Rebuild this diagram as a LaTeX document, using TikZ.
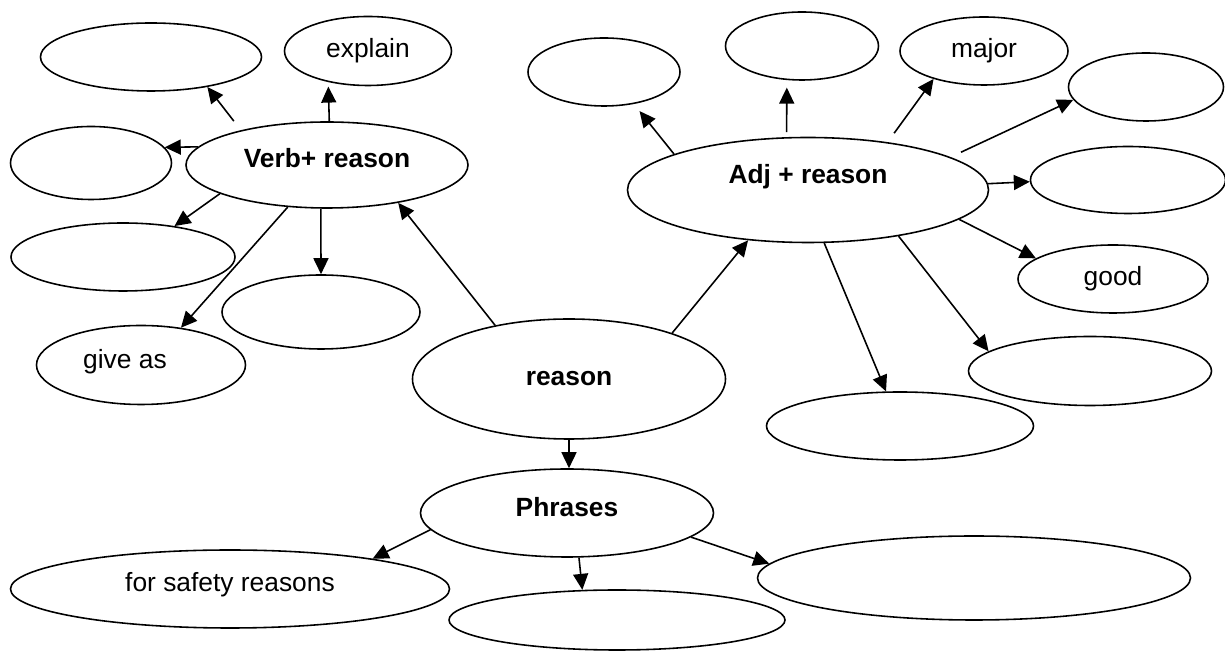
\documentclass[tikz,border=0pt]{standalone}
\usepackage{fontspec}
\setmainfont{Liberation Sans}
\usetikzlibrary{shapes.geometric,arrows.meta}

\begin{document}
\begin{tikzpicture}[
    bub/.style={ellipse, draw, line width=0.9pt, inner sep=0pt, font=\fontsize{15}{18}\selectfont},
    lbl/.style={font=\fontsize{15}{18}\selectfont, inner sep=0pt},
    >={Triangle[length=3.2mm,width=3mm]},
    lnk/.style={->, line width=0.9pt}]
\useasboundingbox (0,0) rectangle (24.5,13.02);

            % left: verbs
            \node[bub, minimum width=4.42cm, minimum height=1.36cm] (blankA) at (3.02,11.88) {};
            \node[bub, minimum width=3.34cm, minimum height=1.38cm] (explain) at (7.36,12.00) {explain};
            \node[bub, minimum width=3.22cm, minimum height=1.46cm] (blankB) at (1.82,9.76) {};
            \node[bub, minimum width=5.64cm, minimum height=1.72cm, label={[lbl,yshift=0.14cm]center:\textbf{Verb+ reason}}] (verb) at (6.54,9.72) {};
            \node[bub, minimum width=4.48cm, minimum height=1.36cm] (blankC) at (2.46,7.88) {};
            \node[bub, minimum width=3.96cm, minimum height=1.48cm] (blankD) at (6.42,6.78) {};
            \node[bub, minimum width=4.18cm, minimum height=1.58cm, label={[lbl,xshift=-0.32cm,yshift=0.06cm]center:give as}] (giveas) at (2.82,5.72) {};

            % centre
            \node[bub, minimum width=6.26cm, minimum height=2.40cm] (reason) at (11.38,5.44) {\textbf{reason}};

            % right: adjectives
            \node[bub, minimum width=3.04cm, minimum height=1.36cm] (adjA) at (12.08,11.58) {};
            \node[bub, minimum width=3.06cm, minimum height=1.36cm] (adjB) at (16.04,12.10) {};
            \node[bub, minimum width=3.36cm, minimum height=1.36cm] (major) at (19.68,12.00) {major};
            \node[bub, minimum width=3.10cm, minimum height=1.36cm] (adjC) at (22.92,11.28) {};
            \node[bub, minimum width=7.22cm, minimum height=2.10cm, label={[lbl,yshift=0.26cm]center:\textbf{Adj + reason}}] (adj) at (16.16,9.22) {};
            \node[bub, minimum width=3.90cm, minimum height=1.34cm] (adjD) at (22.56,9.42) {};
            \node[bub, minimum width=3.80cm, minimum height=1.36cm] (good) at (22.26,7.44) {good};
            \node[bub, minimum width=4.86cm, minimum height=1.38cm] (adjE) at (21.80,5.60) {};
            \node[bub, minimum width=5.34cm, minimum height=1.36cm] (adjF) at (18.00,4.50) {};

            % bottom: phrases
            \node[bub, minimum width=5.86cm, minimum height=1.76cm, label={[lbl,yshift=0.12cm]center:\textbf{Phrases}}] (phrases) at (11.34,2.76) {};
            \node[bub, minimum width=8.78cm, minimum height=1.56cm, label={[lbl,yshift=0.08cm]center:for safety reasons}] (safety) at (4.60,1.24) {};
            \node[bub, minimum width=6.72cm, minimum height=1.20cm] (phrB) at (12.34,0.62) {};
            \node[bub, minimum width=8.66cm, minimum height=1.68cm] (phrC) at (19.48,1.46) {};

            \path[lnk] (verb.158) edge[shorten <=2.3mm] (blankA.332);
            \path[lnk] (verb.87) edge[shorten >=0.9mm] (explain.218);
            \path[lnk] (verb.172) edge (blankB.12);
            \path[lnk] (verb.195) edge (blankC.31);
            \path[lnk] (verb.227) edge (giveas.43);
            \path[lnk] (verb.262) edge (blankD.90);

            \path[lnk] (reason.144) edge (verb.332);
            \path[lnk] (reason.24) edge (adj.220);
            \path[lnk] (reason.south) edge (reason.south |- phrases.north);

            \path[lnk] (adj.165) edge[shorten >=1.8mm] (adjA.313);
            \path[lnk] (adj.112) edge[shorten <=1mm, shorten >=1.5mm] (adjB.246);
            \path[lnk] (adj.31) edge[shorten <=2.2mm] (major.209);
            \path[lnk] (adj.13) edge[shorten <=2.3mm] (adjC.190);
            \path[lnk] (adj.2) edge (adjD.181);
            \path[lnk] (adj.349) edge (good.165);
            \path[lnk] (adj.333) edge (adjE.169);
            \path[lnk] (adj.287) edge (adjF.112);

            \path[lnk] (phrases.187) edge (safety.12);
            \path[lnk] (phrases.285) edge (phrB.139);
            \path[lnk] (phrases.349) edge (phrC.176);
        \end{tikzpicture}
\end{document}
